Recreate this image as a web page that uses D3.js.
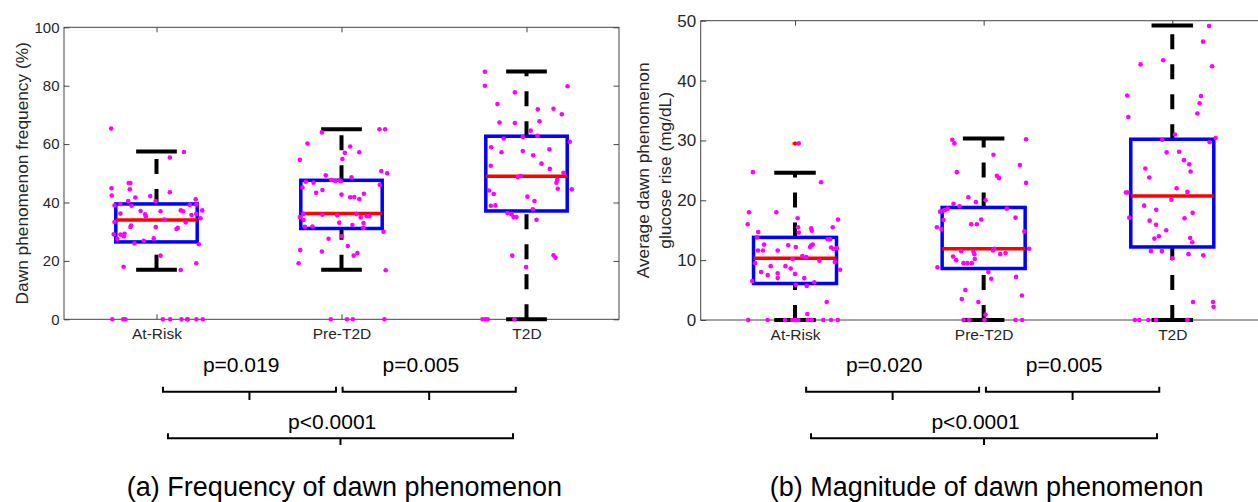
<!DOCTYPE html>
<html>
<head>
<meta charset="utf-8">
<script src="https://cdnjs.cloudflare.com/ajax/libs/d3/7.8.5/d3.min.js"></script>
<style>
body { margin: 0; background: #fff; overflow: hidden; }
svg text { font-family: "Liberation Sans", Arial, sans-serif; }
</style>
</head>
<body>
<svg id="chart"></svg>
<script>
const categories = ["At-Risk", "Pre-T2D", "T2D"];

const freqTicks = [0, 20, 40, 60, 80, 100];
const riseTicks = [0, 10, 20, 30, 40, 50];

// box stats per group: lower whisker, q1, median, q3, upper whisker
const freqLow = [17, 17, 0];
const freqQ1 = [26.5, 31.1, 37.1];
const freqMed = [34, 36.2, 49];
const freqQ3 = [39.5, 47.6, 62.7];
const freqHigh = [57.5, 65.1, 84.9];

const riseLow = [0, 0, 0];
const riseQ1 = [6.1, 8.6, 12.2];
const riseMed = [10.3, 11.9, 20.7];
const riseQ3 = [13.8, 18.8, 30.2];
const riseHigh = [24.6, 30.3, 49.2];

const freqOutliers = [[], [], []];
const riseOutliers = [[29.5], [], []];

// scatter points: [value, jitter in category units]
const freqAtRiskPts = [
[65.3,-0.245],[57.3,0.148],[55.4,0.072],[46.7,-0.150],[46.7,-0.141],[44.9,-0.243],[44.5,-0.144],[43.5,0.072],[42.4,-0.242],[41.7,-0.114],[42.2,-0.034],[40.5,-0.005],[41.1,0.212],[40.5,-0.153],[39.0,-0.227],[39.5,-0.195],[38.9,-0.135],[39.2,0.180],[39.3,0.216],[37.3,0.247],[37.1,-0.086],[37.0,0.022],[37.3,0.131],[37.0,0.144],[36.2,-0.195],[36.0,-0.061],[35.3,-0.058],[35.7,0.189],[36.1,0.215],[34.6,0.238],[34.2,0.042],[33.3,-0.227],[33.2,0.158],[32.1,-0.137],[31.6,-0.141],[31.6,-0.004],[30.9,0.108],[31.3,0.115],[29.1,-0.231],[29.0,-0.195],[29.3,-0.173],[28.4,-0.177],[27.6,-0.212],[27.7,-0.015],[26.9,-0.069],[26.0,-0.119],[25.7,0.229],[21.8,0.022],[19.2,0.215],[18.0,-0.178],[16.9,0.131],
[0,-0.239],[0,-0.180],[0,-0.168],[0,0.034],[0,0.074],[0,0.135],[0,0.166],[0,0.169],[0,0.216],[0,0.250]
];
const freqPreT2DPts = [
[64.0,-0.106],[65.1,0.205],[65.1,0.236],[60.2,-0.184],[59.2,0.047],[57.0,0.018],[57.2,0.096],[54.6,-0.225],[54.9,0.005],[50.8,0.215],[50.0,0.247],[49.3,-0.085],[48.6,0.054],[47.7,-0.056],[47.4,-0.034],[47.6,-0.011],[47.3,-0.004],[47.1,-0.193],[46.8,-0.151],[46.1,0.207],[45.1,-0.211],[44.3,-0.103],[43.3,-0.137],[42.7,0],[43.0,0.121],[41.8,0.047],[41.9,0.069],[41.2,0.096],[36.1,-0.205],[35.8,-0.103],[35.6,-0.023],[36.1,0.081],[35.0,-0.225],[34.9,0.104],[35.3,0.137],[35.3,0.150],[34.0,-0.205],[33.0,0.119],[33.1,-0.012],[31.7,-0.198],[31.8,-0.157],[32.3,0.059],[31.3,0.117],[30.0,0.227],[28.4,0.002],[27.6,-0.070],[25.1,0.034],[23.7,-0.223],[23.2,-0.106],[22.7,0.086],[21.8,0.066],[19.2,-0.232],[16.8,0.239],
[0,-0.058],[0,0.029],[0,0.061],[0,0.232]
];
const freqT2DPts = [
[84.8,-0.225],[80.0,-0.225],[79.8,0.222],[77.7,-0.063],[73.7,-0.157],[71.9,0.061],[72.1,0.146],[70.2,0.191],[67.4,-0.146],[67.2,-0.063],[67.8,0.070],[64.6,0.023],[61.9,-0.123],[62.4,-0.020],[62.8,0.059],[60.8,0.234],[58.9,-0.191],[57.2,-0.135],[57.6,-0.020],[58.2,0.124],[56.2,0.036],[53.3,0.081],[52.6,-0.193],[51.5,0.126],[50.2,0.200],[49.1,-0.032],[48.7,-0.047],[47.8,0.166],[46.8,0.162],[44.7,0.169],[44.5,0.245],[44.1,-0.202],[42.9,-0.177],[42.0,0.005],[40.5,0.043],[38.9,-0.193],[39.0,-0.168],[37.7,0.034],[36.4,-0.103],[36.0,-0.081],[35.0,-0.070],[35.0,-0.054],[34.1,0.054],[21.8,-0.077],[21.9,0.146],[21.1,0.157],[17.9,-0.002],
[0,-0.238],[0,-0.223],[0,-0.209],[0,-0.065]
];

const riseAtRiskPts = [
[29.5,0.020],[24.7,-0.223],[23.0,0.138],[18.0,-0.244],[18.0,-0.099],[17.0,0.014],[16.8,0.228],[16.0,-0.251],[15.5,0.200],[15.5,0.016],[15.3,0.086],[14.9,0.089],[14.7,-0.195],[14.6,0.020],[13.8,-0.202],[13.5,0.173],[13.5,0.186],[12.6,-0.164],[12.5,-0.036],[12.2,0.004],[12.5,0.086],[12.6,0.094],[12.2,0.080],[12.1,0.191],[11.9,0.203],[12.0,0.221],[11.6,-0.196],[11.6,-0.170],[11.6,-0.092],[10.7,0.039],[10.5,0.060],[10.2,-0.012],[9.9,0.129],[9.5,-0.212],[9.7,0.211],[9.0,-0.129],[9.0,-0.051],[8.6,-0.023],[8.4,0.239],[8.0,-0.180],[7.5,-0.145],[7.8,-0.092],[7.0,-0.092],[7.7,0],[7.0,0.049],[6.5,-0.227],[6.3,0.102],[5.9,0.004],[5.7,0.062],[3.0,0.168],[1.0,0.065],
[0,-0.248],[0,-0.145],[0,-0.053],[0,-0.014],[0,0],[0,0.018],[0,0.067],[0,0.089],[0,0.150],[0,0.191],[0,0.227]
];
const risePreT2DPts = [
[30.1,-0.166],[29.5,-0.155],[30.2,0.225],[27.6,0.052],[25.9,0.192],[24.7,-0.142],[24.1,0.070],[23.7,0.082],[22.9,0.225],[20.5,-0.081],[19.7,-0.041],[20.0,0.010],[19.4,-0.160],[19.0,-0.128],[18.6,-0.190],[18.4,-0.204],[18.3,-0.213],[18.1,-0.231],[18.6,0.123],[17.1,0.169],[16.7,-0.213],[16.8,-0.013],[16.0,-0.036],[16.0,-0.066],[15.5,-0.248],[15.2,-0.224],[14.8,0.216],[11.9,0.057],[11.6,0.049],[11.9,0.241],[11.5,-0.119],[11.2,0.116],[11.0,0.088],[11.4,-0.054],[11.0,-0.049],[10.6,-0.162],[10.2,-0.047],[10.0,-0.146],[9.5,-0.107],[9.5,-0.086],[9.5,-0.063],[8.8,-0.245],[8.0,0.025],[6.9,0.040],[7.2,0.172],[5.0,-0.097],[4.1,0.203],[3.5,-0.116],[3.0,-0.028],[0.9,0.010],
[0,-0.107],[0,-0.077],[0,0.004],[0,0.169],[0,0.204]
];
const riseT2DPts = [
[49.1,0.195],[46.5,0.163],[43.4,-0.048],[42.7,-0.168],[42.4,0.211],[37.5,-0.239],[37.4,0.152],[36.2,0.145],[34.5,0.133],[33.9,-0.233],[31.0,0.014],[30.4,0.230],[30.1,-0.053],[29.7,0.198],[28.0,-0.030],[28.1,0.036],[26.7,0.062],[26.0,0.090],[25.3,-0.143],[24.8,0.097],[23.8,-0.122],[22.0,0.023],[21.4,0.080],[21.3,-0.246],[21.3,-0.237],[20.1,-0.005],[19.1,-0.149],[18.4,-0.085],[17.9,0.108],[17.1,-0.228],[17.0,0.065],[16.6,-0.120],[15.9,-0.086],[15.0,-0.032],[14.0,-0.071],[13.6,-0.095],[13.7,0.095],[13.0,0.106],[11.5,-0.113],[11.5,-0.055],[11.0,0.086],[10.8,0.164],[10.3,0],[3.0,0.110],[3.0,0.216],[2.2,0.219],
[0,-0.198],[0,-0.175],[0,-0.127],[0,-0.086],[0,0.080]
];

// significance brackets: span in category units, row, label
const freqBrackets = [
    {from: 1.035, to: 1.970, row: 0, label: "p=0.019"},
    {from: 2.006, to: 2.942, row: 0, label: "p=0.005"},
    {from: 1.062, to: 2.927, row: 1, label: "p<0.0001"}
];
const riseBrackets = [
    {from: 1.059, to: 1.976, row: 0, label: "p=0.020"},
    {from: 2.012, to: 2.931, row: 0, label: "p=0.005"},
    {from: 1.085, to: 2.919, row: 1, label: "p<0.0001"}
];

const svgWidth = 1258, svgHeight = 502;
const boxWidth = 0.44, capWidth = 0.22;
const rowLineY = [391.7, 438.3], rowTextY = [371.5, 428.5], rowTick = [8.3, 6.7];

const chart = d3.select('#chart')
    .attr("width", svgWidth)
    .attr("height", svgHeight);

chart.append("rect").attr("width", svgWidth).attr("height", svgHeight).attr("fill", "#fff");

const panels = [
    {left: 64, right: 619, top: 27.3, bottom: 319.3, domain: [0, 100], ticks: freqTicks, tickFont: 15,
     low: freqLow, q1: freqQ1, med: freqMed, q3: freqQ3, high: freqHigh, outliers: freqOutliers,
     points: [freqAtRiskPts, freqPreT2DPts, freqT2DPts], brackets: freqBrackets,
     ylabel: ["Dawn phenomenon frequency (%)"], ylabelX: [27.5],
     caption: "(a) Frequency of dawn phenomenon"},
    {left: 700.7, right: 1266.6, top: 20.7, bottom: 320, domain: [0, 50], ticks: riseTicks, tickFont: 17,
     low: riseLow, q1: riseQ1, med: riseMed, q3: riseQ3, high: riseHigh, outliers: riseOutliers,
     points: [riseAtRiskPts, risePreT2DPts, riseT2DPts], brackets: riseBrackets,
     ylabel: ["Average dawn phenomenon", "glucose rise (mg/dL)"], ylabelX: [649, 671],
     caption: "(b) Magnitude of dawn phenomenon"}
];

panels.forEach(drawPanel);

function styleAxis(sel, fontSize){
    sel.select(".domain").remove();
    sel.selectAll(".tick line").attr("stroke", "#444").attr("stroke-width", 1);
    sel.selectAll(".tick text")
        .attr("fill", "#262626")
        .style("font-size", fontSize + "px")
        .style("font-family", "'Liberation Sans', Arial, sans-serif");
}

function drawPanel(p){
    const g = chart.append("g");
    const x = d3.scaleLinear().domain([0.5, 3.5]).range([p.left, p.right]);
    const y = d3.scaleLinear().domain(p.domain).range([p.bottom, p.top]);
    const groups = [1, 2, 3];

    // frame
    g.append("rect")
        .attr("x", p.left).attr("y", p.top)
        .attr("width", p.right - p.left).attr("height", p.bottom - p.top)
        .attr("fill", "none").attr("stroke", "#444").attr("stroke-width", 1);

    g.append("g").attr("transform", "translate(" + p.left + ",0)")
        .call(d3.axisLeft(y).tickValues(p.ticks).tickSize(-5.5).tickPadding(4.5))
        .call(styleAxis, p.tickFont);
    g.append("g").attr("transform", "translate(" + p.right + ",0)")
        .call(d3.axisRight(y).tickValues(p.ticks).tickSize(-5.5).tickFormat(""))
        .call(styleAxis, p.tickFont);
    g.append("g").attr("transform", "translate(0," + p.top + ")")
        .call(d3.axisTop(x).tickValues(groups).tickSize(-5).tickFormat(""))
        .call(styleAxis, 15);
    g.append("g").attr("transform", "translate(0," + p.bottom + ")")
        .call(d3.axisBottom(x).tickValues(groups).tickSize(-5).tickPadding(9)
            .tickFormat(function(d){ return categories[d - 1]; }))
        .call(styleAxis, 15.5);

    // y label
    p.ylabel.forEach(function(line, i){
        g.append("text")
            .attr("transform", "translate(" + p.ylabelX[i] + "," + ((p.top + p.bottom) / 2) + ") rotate(-90)")
            .attr("text-anchor", "middle")
            .attr("fill", "#262626")
            .style("font-size", "17.3px")
            .text(line);
    });

    // whiskers (drawn upward from lower value)
    const wh = g.append("g").attr("stroke", "#000").attr("stroke-width", 4)
        .attr("stroke-dasharray", "15,15").attr("fill", "none");
    groups.forEach(function(c, i){
        wh.append("path").attr("d", "M" + x(c) + "," + y(p.q3[i]) + "V" + y(p.high[i]));
        wh.append("path").attr("d", "M" + x(c) + "," + y(p.low[i]) + "V" + y(p.q1[i]));
    });

    // caps
    groups.forEach(function(c, i){
        [p.low[i], p.high[i]].forEach(function(v){
            g.append("line")
                .attr("x1", x(c - capWidth / 2)).attr("x2", x(c + capWidth / 2))
                .attr("y1", y(v)).attr("y2", y(v))
                .attr("stroke", "#000").attr("stroke-width", 4);
        });
    });

    // boxes
    g.selectAll(".box").data(groups).enter().append("rect")
        .attr("class", "box")
        .attr("x", function(c){ return x(c - boxWidth / 2); })
        .attr("width", function(c){ return x(c + boxWidth / 2) - x(c - boxWidth / 2); })
        .attr("y", function(c, i){ return y(p.q3[i]); })
        .attr("height", function(c, i){ return y(p.q1[i]) - y(p.q3[i]); })
        .attr("fill", "none").attr("stroke", "#0000ff").attr("stroke-width", 3.5);

    // medians
    g.selectAll(".median").data(groups).enter().append("line")
        .attr("class", "median")
        .attr("x1", function(c){ return x(c - boxWidth / 2); })
        .attr("x2", function(c){ return x(c + boxWidth / 2); })
        .attr("y1", function(c, i){ return y(p.med[i]); })
        .attr("y2", function(c, i){ return y(p.med[i]); })
        .attr("stroke", "#ff0000").attr("stroke-width", 3.5);

    // outliers
    groups.forEach(function(c, i){
        p.outliers[i].forEach(function(v){
            g.append("path")
                .attr("d", "M" + (x(c) - 2.5) + "," + y(v) + "h5M" + x(c) + "," + (y(v) - 2) + "v4")
                .attr("stroke", "#ff0000").attr("stroke-width", 2.5);
        });
    });

    // jittered points
    groups.forEach(function(c, i){
        g.append("g").selectAll(".dot")
            .data(p.points[i])
            .enter()
            .append("circle")
            .attr("class", "dot")
            .attr("cx", function(d){ return x(c + d[1]); })
            .attr("cy", function(d){ return y(d[0]); })
            .attr("r", 2.3)
            .attr("fill", "#ff00ff");
    });

    // brackets
    p.brackets.forEach(function(b){
        const ly = rowLineY[b.row];
        const mid = (b.from + b.to) / 2;
        g.append("path")
            .attr("d", "M" + x(b.from) + "," + (ly - 5) + "V" + ly + "H" + x(b.to) + "V" + (ly - 5)
                + "M" + x(mid) + "," + ly + "V" + (ly + rowTick[b.row]))
            .attr("fill", "none").attr("stroke", "#000").attr("stroke-width", 2);
        g.append("text")
            .attr("x", x(mid - 0.045))
            .attr("y", rowTextY[b.row])
            .attr("text-anchor", "middle")
            .attr("fill", "#000")
            .style("font-size", "21px")
            .text(b.label);
    });

    g.append("text")
        .attr("x", x(2) + 3)
        .attr("y", 495.5)
        .attr("text-anchor", "middle")
        .attr("fill", "#000")
        .style("font-size", "27px")
        .text(p.caption);
}
</script>
</body>
</html>
